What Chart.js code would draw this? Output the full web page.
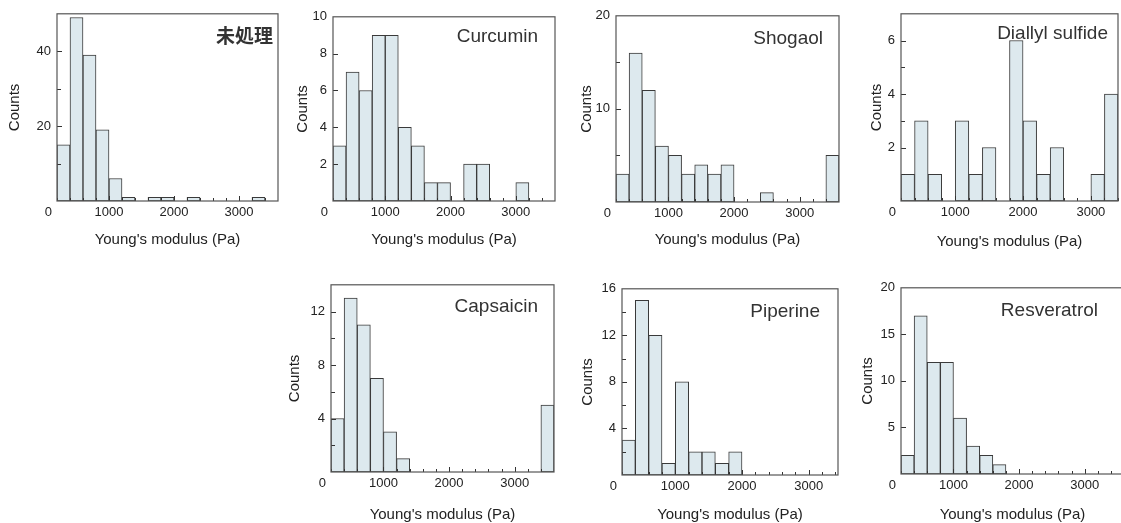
<!DOCTYPE html>
<html>
<head>
<meta charset="utf-8">
<script src="https://cdn.jsdelivr.net/npm/chart.js@4.4.1/dist/chart.umd.min.js"></script>
<style>
html, body { margin: 0; padding: 0; background: #fff; overflow: hidden; width: 1121px; height: 523px; }
canvas { position: absolute; }
</style>
</head>
<body>
<script>

// histogram bins (Pa), 200 Pa wide
const binCenters = [300, 500, 700, 900, 1100, 1300, 1500, 1700, 1900, 2100, 2300, 2500, 2700, 2900, 3100, 3300, 3500];

// counts per bin
const untreated   = [15, 49, 39, 19, 6, 1, 0, 1, 1, 0, 1, 0, 0, 0, 0, 1, 0];
const curcumin    = [3, 7, 6, 9, 9, 4, 3, 1, 1, 0, 2, 2, 0, 0, 1, 0, 0];
const shogaol     = [3, 16, 12, 6, 5, 3, 4, 3, 4, 0, 0, 1, 0, 0, 0, 0, 5];
const diallyl     = [1, 3, 1, 0, 3, 1, 2, 0, 6, 3, 1, 2, 0, 0, 1, 4, 0];
const capsaicin   = [4, 13, 11, 7, 3, 1, 0, 0, 0, 0, 0, 0, 0, 0, 0, 0, 5];
const piperine    = [3, 15, 12, 1, 8, 2, 2, 1, 2, 0, 0, 0, 0, 0, 0, 0, 0];
const resveratrol = [2, 17, 12, 12, 6, 3, 2, 1, 0, 0, 0, 0, 0, 0, 0, 0, 0];

const xTickLabels = [1000, 2000, 3000];
const xTitle = "Young's modulus (Pa)";
const yTitle = 'Counts';

// panel layout: plot box (L,R,T,B), axis ranges, title placement
const panels = [
	{ name: '未処理',          counts: untreated,   L: 57,  R: 278,  T: 10,  B: 201, xMax: 3600, yMax: 50, yStep: 10, yLabelEvery: 20, gap: 5,  ty: 32,  yd: 42, xd: 39, cjk: true },
	{ name: 'Curcumin',        counts: curcumin,    L: 333, R: 555,  T: 13,  B: 201, xMax: 3600, yMax: 10, yStep: 2,  yLabelEvery: 2,  gap: 17, ty: 33,  yd: 30, xd: 39 },
	{ name: 'Shogaol',         counts: shogaol,     L: 616, R: 839,  T: 12,  B: 202, xMax: 3600, yMax: 20, yStep: 5,  yLabelEvery: 10, gap: 16, ty: 35,  yd: 29, xd: 38 },
	{ name: 'Diallyl sulfide', counts: diallyl,     L: 901, R: 1118, T: 10,  B: 201, xMax: 3400, yMax: 7,  yStep: 1,  yLabelEvery: 2,  gap: 10, ty: 30,  yd: 24, xd: 41 },
	{ name: 'Capsaicin',       counts: capsaicin,   L: 331, R: 554,  T: 281, B: 472, xMax: 3600, yMax: 14, yStep: 2,  yLabelEvery: 4,  gap: 16, ty: 303, yd: 36, xd: 43 },
	{ name: 'Piperine',        counts: piperine,    L: 622, R: 838,  T: 285, B: 475, xMax: 3440, yMax: 16, yStep: 2,  yLabelEvery: 4,  gap: 18, ty: 308, yd: 34, xd: 40 },
	{ name: 'Resveratrol',     counts: resveratrol, L: 901, R: 1124, T: 284, B: 474, xMax: 3600, yMax: 20, yStep: 5,  yLabelEvery: 5,  gap: 26, ty: 307, yd: 33, xd: 41 }
];

const FONT = '"Liberation Sans", Arial, sans-serif';
const Y_AXIS_W = 60;
const X_AXIS_H = 52;
const PAD_TOP = 10;
const PAD_RIGHT = 6;

// frame, inward ticks, corner "0" and panel name
const panelDecor = {
	id: 'panelDecor',
	afterDatasetsDraw(chart, args, opts) {
		const { ctx, chartArea: a, scales: { x, y } } = chart;
		ctx.save();
		ctx.strokeStyle = '#333';
		ctx.lineWidth = 1;
		ctx.beginPath();
		x.ticks.forEach(t => {
			const px = Math.round(x.getPixelForValue(t.value)) + 0.5;
			const len = t.value % 1000 === 0 ? 5 : 3;
			ctx.moveTo(px, a.bottom);
			ctx.lineTo(px, a.bottom - len);
		});
		y.ticks.forEach(t => {
			if (t.value <= 0 || t.value >= opts.yMax) return;
			const py = Math.round(y.getPixelForValue(t.value)) + 0.5;
			const len = t.value % opts.yLabelEvery === 0 ? 5 : 4;
			ctx.moveTo(a.left, py);
			ctx.lineTo(a.left + len, py);
		});
		ctx.stroke();

		ctx.strokeStyle = '#555';
		ctx.lineWidth = 1.2;
		ctx.strokeRect(a.left, a.top, a.right - a.left, a.bottom - a.top);

		ctx.fillStyle = '#222';
		ctx.font = '13px ' + FONT;
		ctx.textAlign = 'right';
		ctx.textBaseline = 'middle';
		ctx.fillText('0', a.left - 5, a.bottom + 11);

		ctx.fillStyle = '#333';
		ctx.font = opts.cjk ? 'bold 19px "Noto Sans CJK JP", sans-serif' : '19px ' + FONT;
		ctx.fillText(opts.name, a.right - opts.gap, a.top + opts.ty);
		ctx.restore();
	}
};

panels.forEach(p => {
	const canvas = document.createElement('canvas');
	const w = (p.R - p.L) + Y_AXIS_W + PAD_RIGHT;
	const h = (p.B - p.T) + PAD_TOP + X_AXIS_H;
	canvas.width = w;
	canvas.height = h;
	canvas.style.left = (p.L - Y_AXIS_W) + 'px';
	canvas.style.top = (p.T - PAD_TOP) + 'px';
	document.body.appendChild(canvas);

	new Chart(canvas.getContext('2d'), {
		type: 'bar',
		data: {
			datasets: [{
				data: binCenters.map((c, i) => ({ x: c, y: p.counts[i] })),
				backgroundColor: '#dde9ee',
				borderColor: '#3a3a3a',
				borderWidth: 1,
				borderSkipped: false,
				barPercentage: 1,
				categoryPercentage: 1
			}]
		},
		options: {
			responsive: false,
			animation: false,
			layout: { padding: { top: PAD_TOP, right: PAD_RIGHT, left: 0, bottom: 0 } },
			scales: {
				x: {
					type: 'linear',
					offset: false,
					min: 200,
					max: p.xMax,
					grid: { display: false, drawTicks: false, offset: false },
					border: { display: false },
					afterBuildTicks: s => {
						s.ticks = binCenters.map(c => c - 100).filter(v => v <= p.xMax).map(v => ({ value: v }));
					},
					afterFit: s => { s.height = X_AXIS_H; },
					ticks: {
						autoSkip: false,
						maxRotation: 0,
						padding: 4,
						color: '#222',
						font: { family: FONT, size: 13 },
						callback: v => xTickLabels.includes(v) ? String(v) : ''
					},
					title: {
						display: true,
						text: xTitle,
						color: '#222',
						font: { family: FONT, size: 15 },
						padding: { top: 0, bottom: X_AXIS_H - 9 - p.xd }
					}
				},
				y: {
					min: 0,
					max: p.yMax,
					grid: { display: false, drawTicks: false },
					border: { display: false },
					afterBuildTicks: s => {
						const t = [];
						for (let v = 0; v <= p.yMax; v += p.yStep) t.push({ value: v });
						s.ticks = t;
					},
					afterFit: s => { s.width = Y_AXIS_W; },
					ticks: {
						autoSkip: false,
						padding: 6,
						color: '#222',
						font: { family: FONT, size: 13 },
						callback: v => (v > 0 && v % p.yLabelEvery === 0) ? String(v) : ''
					},
					title: {
						display: true,
						text: yTitle,
						color: '#222',
						font: { family: FONT, size: 15 },
						padding: { top: Y_AXIS_W - 9 - p.yd, bottom: 0 }
					}
				}
			},
			plugins: {
				legend: { display: false },
				tooltip: { enabled: false },
				panelDecor: { name: p.name, gap: p.gap, ty: p.ty - p.T, yMax: p.yMax, yLabelEvery: p.yLabelEvery, cjk: p.cjk }
			}
		},
		plugins: [panelDecor]
	});
});
</script>
</body>
</html>
